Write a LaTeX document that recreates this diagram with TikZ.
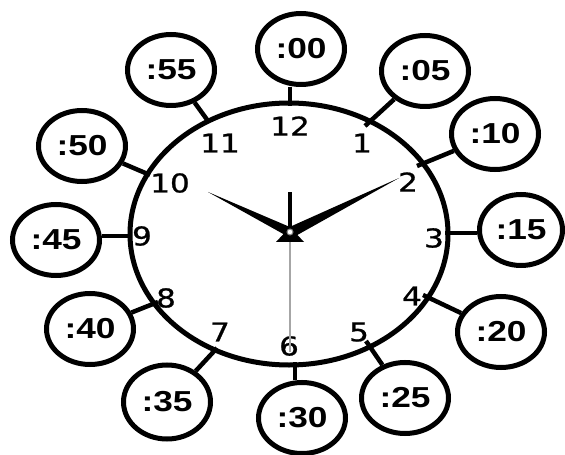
\documentclass[tikz,border=0pt]{standalone}
\usepackage{fontspec}
\newfontfamily\dialfont[FakeBold=0.8]{DejaVu Sans}
\newfontfamily\bubfont{Liberation Sans}
\usetikzlibrary{shapes.geometric}
\newcommand\bubtxt[1]{\scalebox{1.22}[1]{#1}}
\newcommand\dialtxt[1]{\scalebox{1.2}[1]{#1}}
\tikzset{
  bubble/.style={ellipse, draw=black, line width=5bp, inner sep=0pt,
    minimum width=87bp, minimum height=71bp,
    font=\bubfont\bfseries\fontsize{29}{29}\selectfont},
  dialnum/.style={inner sep=0pt, font=\dialfont\fontsize{26}{26}\selectfont},
  conn/.style={draw=black, line width=4.5bp},
  face/.style={ellipse, draw=black, line width=5bp, inner sep=0pt,
    minimum width=318bp, minimum height=262bp}
}
\begin{document}
\begin{tikzpicture}[x=1bp,y=-1bp]
\useasboundingbox (0,0) rectangle (565,455);
\fill[white] (0,0) rectangle (565,455);
% clock face
\node[face] (dial) at (289,234) {};
% tick ends
\coordinate (t12) at (290,106);
\coordinate (t1) at (365,126);
\coordinate (t2) at (417,166);
\coordinate (t3) at (445,233);
\coordinate (t4) at (423,295);
\coordinate (t5) at (366,341);
\coordinate (t6) at (295,362);
\coordinate (t7) at (217,348);
\coordinate (t8) at (158,302);
\coordinate (t9) at (132,236);
\coordinate (t10) at (150,175);
\coordinate (t11) at (208,121);
% bubbles
\node[bubble] (b00) at (301,49) {\bubtxt{:00}};
\node[bubble] (b05) at (425,71) {\bubtxt{:05}};
\node[bubble] (b10) at (495,134) {\bubtxt{:10}};
\node[bubble, minimum width=83bp] (b15) at (521,230) {\bubtxt{:15}};
\node[bubble] (b20) at (501,332) {\bubtxt{:20}};
\node[bubble] (b25) at (405,398) {\bubtxt{:25}};
\node[bubble] (b30) at (302,418) {\bubtxt{:30}};
\node[bubble, minimum height=74bp] (b35) at (167,402) {\bubtxt{:35}};
\node[bubble] (b40) at (90,329) {\bubtxt{:40}};
\node[bubble] (b45) at (56,240) {\bubtxt{:45}};
\node[bubble] (b50) at (82,146) {\bubtxt{:50}};
\node[bubble] (b55) at (171,70) {\bubtxt{:55}};
% connectors
\draw[conn] (t12 |- b00.south) -- (t12);
\draw[conn] (b05) -- (t1);
\draw[conn] (b10) -- (t2);
\draw[conn] (t3 -| b15.west) -- (t3);
\draw[conn] (b20) -- (t4);
\draw[conn] (b25) -- (t5);
\draw[conn] (t6 |- b30.north) -- (t6);
\draw[conn] (b35) -- (t7);
\draw[conn] (b40) -- (t8);
\draw[conn] (t9 -| b45.east) -- (t9);
\draw[conn] (b50) -- (t10);
\draw[conn] (b55) -- (t11);
% dial numbers
\node[dialnum] (n12) at (290,126) {\dialtxt{12}};
\node[dialnum] (n1) at (362,143) {\dialtxt{1}};
\node[dialnum] (n2) at (408,182) {\dialtxt{2}};
\node[dialnum] (n3) at (434,238) {\dialtxt{3}};
\node[dialnum] (n4) at (412,296) {\dialtxt{4}};
\node[dialnum] (n5) at (359,332) {\dialtxt{5}};
\node[dialnum] (n6) at (289,346) {\dialtxt{6}};
\node[dialnum] (n7) at (220,332) {\dialtxt{7}};
\node[dialnum] (n8) at (166,298) {\dialtxt{8}};
\node[dialnum] (n9) at (142,236) {\dialtxt{9}};
\node[dialnum] (n10) at (170,183) {\dialtxt{10}};
\node[dialnum] (n11) at (220,143) {\dialtxt{11}};
% hands
\coordinate (hub) at (290,232);
\draw[gray!70, line width=1.3bp] (hub) -- (290,352);
\draw[black, line width=3.5bp] (hub) -- (290,192);
\fill[black] (208,192) -- (292.2,228.0) -- (287.8,236.5) -- cycle;
\fill[black] (399,178) -- (292.7,237.6) -- (287.6,227.9) -- cycle;
\fill[black] (276,242) -- (304,242) -- (290,227) -- cycle;
\filldraw[fill=white, draw=gray, line width=1bp] (hub) circle (3);
\end{tikzpicture}
\end{document}
